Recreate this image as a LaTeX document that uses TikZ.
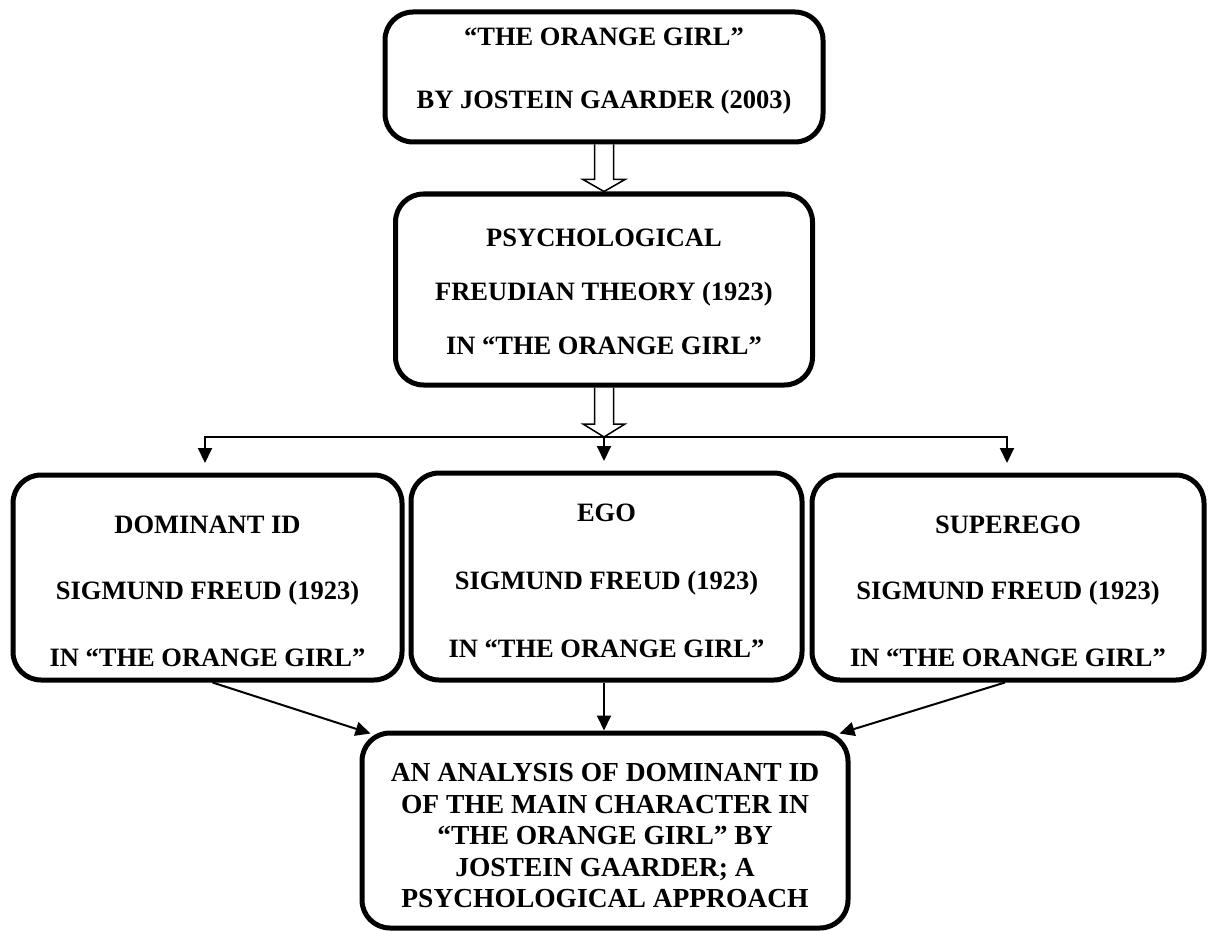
\documentclass[tikz,border=0pt]{standalone}
\usepackage{fontspec}
\setmainfont{Liberation Serif}
\usetikzlibrary{arrows.meta,calc}
\begin{document}
\begin{tikzpicture}[x=1pt,y=-1pt,
  box/.style={draw,line width=5pt,rounded corners=28pt,inner sep=0pt},
  txt/.style={align=center,inner sep=0pt},
  conn/.style={line width=2pt},
  arr/.style={line width=2pt,-{Triangle[length=15pt,width=14pt]}},
  hollowar/.style={line width=1.5pt,line join=miter}]
\useasboundingbox (0,0) rectangle (1208,931);
% boxes
\node[box,minimum width=438pt,minimum height=130pt] (top) at (604,77) {};
\node[txt,font={\fontsize{26.5}{63}\selectfont\bfseries}] (topT) at (604,71) {“THE ORANGE GIRL”\\BY JOSTEIN GAARDER (2003)};
\node[box,minimum width=417pt,minimum height=191pt] (box2) at (604,289.5) {};
\node[txt,font={\fontsize{26.5}{54}\selectfont\bfseries}] (box2T) at (604,292) {PSYCHOLOGICAL\\FREUDIAN THEORY (1923)\\IN “THE ORANGE GIRL”};
\node[box,minimum width=389pt,minimum height=205pt] (left) at (207.5,577.5) {};
\node[txt,font={\fontsize{26.5}{66.5}\selectfont\bfseries}] (leftT) at (207.5,591) {DOMINANT ID\\SIGMUND FREUD (1923)\\IN “THE ORANGE GIRL”};
\node[box,minimum width=391pt,minimum height=207pt] (mid) at (606.5,576.5) {};
\node[txt,font={\fontsize{26.5}{68}\selectfont\bfseries}] (midT) at (606.5,581) {EGO\\SIGMUND FREUD (1923)\\IN “THE ORANGE GIRL”};
\node[box,minimum width=392pt,minimum height=205pt] (right) at (1008,577.5) {};
\node[txt,font={\fontsize{26.5}{66.5}\selectfont\bfseries}] (rightT) at (1008,591) {SUPEREGO\\SIGMUND FREUD (1923)\\IN “THE ORANGE GIRL”};
\node[box,minimum width=486pt,minimum height=195pt] (bot) at (605,830.5) {};
\node[txt,font={\fontsize{27.5}{31.5}\selectfont\bfseries}] (botT) at (605,836) {AN ANALYSIS OF DOMINANT ID\\OF THE MAIN CHARACTER IN\\“THE ORANGE GIRL” BY\\JOSTEIN GAARDER; A\\PSYCHOLOGICAL APPROACH};
% hollow arrows
\draw[hollowar] ($(top.south)+(-9.5,0)$) -- ($(box2.north)+(-9.5,-12)$) -- ($(box2.north)+(-21,-12)$) -- (box2.north) -- ($(box2.north)+(21,-12)$) -- ($(box2.north)+(9.5,-12)$) -- ($(top.south)+(9.5,0)$);
\coordinate (br) at (604,437);
\draw[hollowar] ($(box2.south)+(-9.5,0)$) -- ($(br)+(-9.5,-13)$) -- ($(br)+(-21,-13)$) -- (br) -- ($(br)+(21,-13)$) -- ($(br)+(9.5,-13)$) -- ($(box2.south)+(9.5,0)$);
% branch arrows
\draw[arr,shorten >=9.5pt] (br) -| ($(left.north)+(-2.5,0)$);
\draw[arr,shorten >=9.5pt] (br) -- (br |- mid.north);
\draw[arr,shorten >=9.5pt] (br) -| ($(right.north)+(-1,0)$);
% converging arrows
\draw[arr] ($(left.south)+(5,0)$) -- ($(bot.north west)+(11,3)$);
\draw[arr] (br |- mid.south) -- (br |- bot.north);
\draw[arr] ($(right.south)+(-3,0)$) -- ($(bot.north east)+(-11,3)$);
\end{tikzpicture}
\end{document}
